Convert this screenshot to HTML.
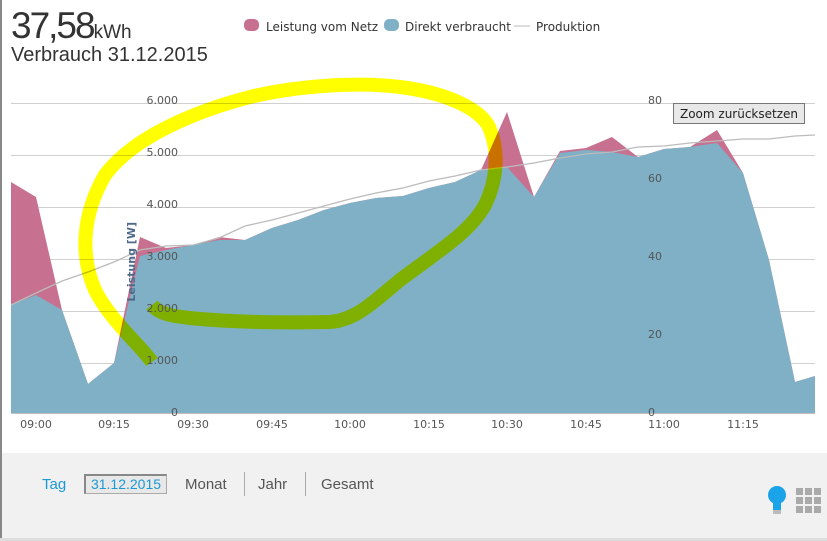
<!DOCTYPE html>
<html><head><meta charset="utf-8"><style>
body{margin:0;width:827px;height:541px;overflow:hidden;background:#fff;font-family:"Liberation Sans",sans-serif;position:relative}
.t{position:absolute;white-space:nowrap}
</style></head><body>
<div style="position:absolute;left:0;top:0;width:2px;height:541px;background:#888"></div>
<div style="position:absolute;left:2px;top:453px;width:825px;height:85px;background:#f1f1f1"></div>
<div style="position:absolute;left:0;top:538px;width:827px;height:3px;background:#ddd"></div>
<div class="t" style="left:11px;top:5px;font-size:37px;color:#333;letter-spacing:-2px">37,58<span style="font-size:19px;letter-spacing:0">kWh</span></div>
<div class="t" style="left:11px;top:44px;font-size:20px;color:#333">Verbrauch 31.12.2015</div>
<svg width="827" height="541" style="position:absolute;left:0;top:0">
<g font-family="DejaVu Sans,sans-serif" font-size="12" fill="#333">
<rect x="244" y="19" width="15" height="12" rx="5" fill="#c8708f"/><text x="266" y="31">Leistung vom Netz</text>
<rect x="384" y="19" width="15" height="12" rx="5" fill="#7fb0c6"/><text x="405" y="31">Direkt verbraucht</text>
<line x1="514" y1="26" x2="530" y2="26" stroke="#bbb"/><text x="536" y="31">Produktion</text>
</g>
<g stroke="#d0d0d0" stroke-width="1">
<line x1="11" y1="103.5" x2="815" y2="103.5"/><line x1="11" y1="155.5" x2="815" y2="155.5"/><line x1="11" y1="207.5" x2="815" y2="207.5"/><line x1="11" y1="259.5" x2="815" y2="259.5"/><line x1="11" y1="311.5" x2="815" y2="311.5"/><line x1="11" y1="363.5" x2="815" y2="363.5"/>
</g>
<polygon fill="#c8708f" points="11,413 11,182 36,197 62,310 88,384 114,363 140,237 166,248 193,245 219,237 245,240 272,228 298,220 324,210 350,203 376,198 403,196 429,188 455,182 481,170 507,112 534,197 560,151 586,148 612,137 638,157 664,149 690,147 717,130 743,173 769,260 795,382 815,376 815,413"/>
<polygon fill="#7fb0c6" points="11,413 11,305 36,295 62,310 88,384 114,363 140,256 166,250 193,245 219,240 245,240 272,228 298,220 324,210 350,203 376,198 403,196 429,188 455,182 481,170 507,167 534,197 560,153 586,150 612,152 638,157 664,149 690,147 717,143 743,173 769,260 795,382 815,376 815,413"/>
<polyline fill="none" stroke="#bbb" stroke-width="1.3" points="11,305 36,293 62,281 88,272 114,262 140,250 166,246 193,245 219,238 245,226 272,220 298,213 324,206 350,199 376,193 403,188 429,181 455,176 481,170 507,167 534,163 560,158 586,154 612,152 638,147 664,146 690,143 717,141 743,139 769,139 795,136 815,135"/>
<text transform="translate(135,222) rotate(-90)" text-anchor="end" font-family="DejaVu Sans,sans-serif" font-size="11" font-weight="bold" fill="#4d6a8a">Leistung [W]</text>
<path style="mix-blend-mode:multiply" fill="none" stroke="#ffff00" stroke-width="14" stroke-linecap="butt" d="M152,362 C140,345 110,320 95,290 C80,255 82,215 105,175 C135,135 200,110 250,97 C300,85 360,82 400,87 C440,92 475,105 488,125 C500,150 497,180 485,205 C470,232 440,250 400,280 C370,305 355,320 330,322 C280,323 230,322 190,318 C170,316 158,313 152,305"/>
<line x1="11" y1="413.5" x2="815" y2="413.5" stroke="#c0c0c0"/>
<g font-family="DejaVu Sans,sans-serif" font-size="11" fill="#555" text-anchor="middle">
<text x="36" y="428">09:00</text><text x="114" y="428">09:15</text><text x="193" y="428">09:30</text><text x="272" y="428">09:45</text><text x="350" y="428">10:00</text><text x="429" y="428">10:15</text><text x="507" y="428">10:30</text><text x="586" y="428">10:45</text><text x="664" y="428">11:00</text><text x="743" y="428">11:15</text>
</g>
<g font-family="DejaVu Sans,sans-serif" font-size="11" fill="#555" text-anchor="end">
<text x="178" y="104">6.000</text><text x="178" y="156">5.000</text><text x="178" y="208">4.000</text><text x="178" y="260">3.000</text><text x="178" y="312">2.000</text><text x="178" y="364">1.000</text><text x="178" y="416">0</text>
</g>
<g font-family="DejaVu Sans,sans-serif" font-size="11" fill="#555">
<text x="648" y="104">80</text><text x="648" y="182">60</text><text x="648" y="260">40</text><text x="648" y="338">20</text><text x="648" y="416">0</text>
</g>
<rect x="673.5" y="103.5" width="131" height="20" fill="#e8e8e8" stroke="#777"/>
<text x="739" y="118" text-anchor="middle" font-family="DejaVu Sans,sans-serif" font-size="12" fill="#222">Zoom zurücksetzen</text>
<g transform="translate(768,486)"><circle cx="9" cy="9" r="9" fill="#1aa3e8"/><rect x="5" y="14" width="8" height="12" fill="#1aa3e8"/><rect x="5" y="24" width="8" height="4" fill="#bbb"/></g>
<g fill="#aaa"><rect x="796" y="488" width="7" height="7"/><rect x="805" y="488" width="7" height="7"/><rect x="814" y="488" width="7" height="7"/><rect x="796" y="497" width="7" height="7"/><rect x="805" y="497" width="7" height="7"/><rect x="814" y="497" width="7" height="7"/><rect x="796" y="506" width="7" height="7"/><rect x="805" y="506" width="7" height="7"/><rect x="814" y="506" width="7" height="7"/></g>
</svg>
<div class="t" style="left:42px;top:476px;font-size:15px;color:#1a9ad6">Tag</div>
<div class="t" style="left:84px;top:474px;width:80px;height:17px;border:1px solid #aaa;border-left:2px solid #888;border-top:2px solid #888;background:#e8e8e8;font-size:14px;color:#1a9ad6;text-align:center;line-height:17px">31.12.2015</div>
<div class="t" style="left:185px;top:476px;font-size:15px;color:#555">Monat</div>
<div style="position:absolute;left:244px;top:472px;width:1px;height:24px;background:#aaa"></div>
<div class="t" style="left:258px;top:476px;font-size:15px;color:#555">Jahr</div>
<div style="position:absolute;left:305px;top:472px;width:1px;height:24px;background:#aaa"></div>
<div class="t" style="left:321px;top:476px;font-size:15px;color:#555">Gesamt</div>
</body></html>
